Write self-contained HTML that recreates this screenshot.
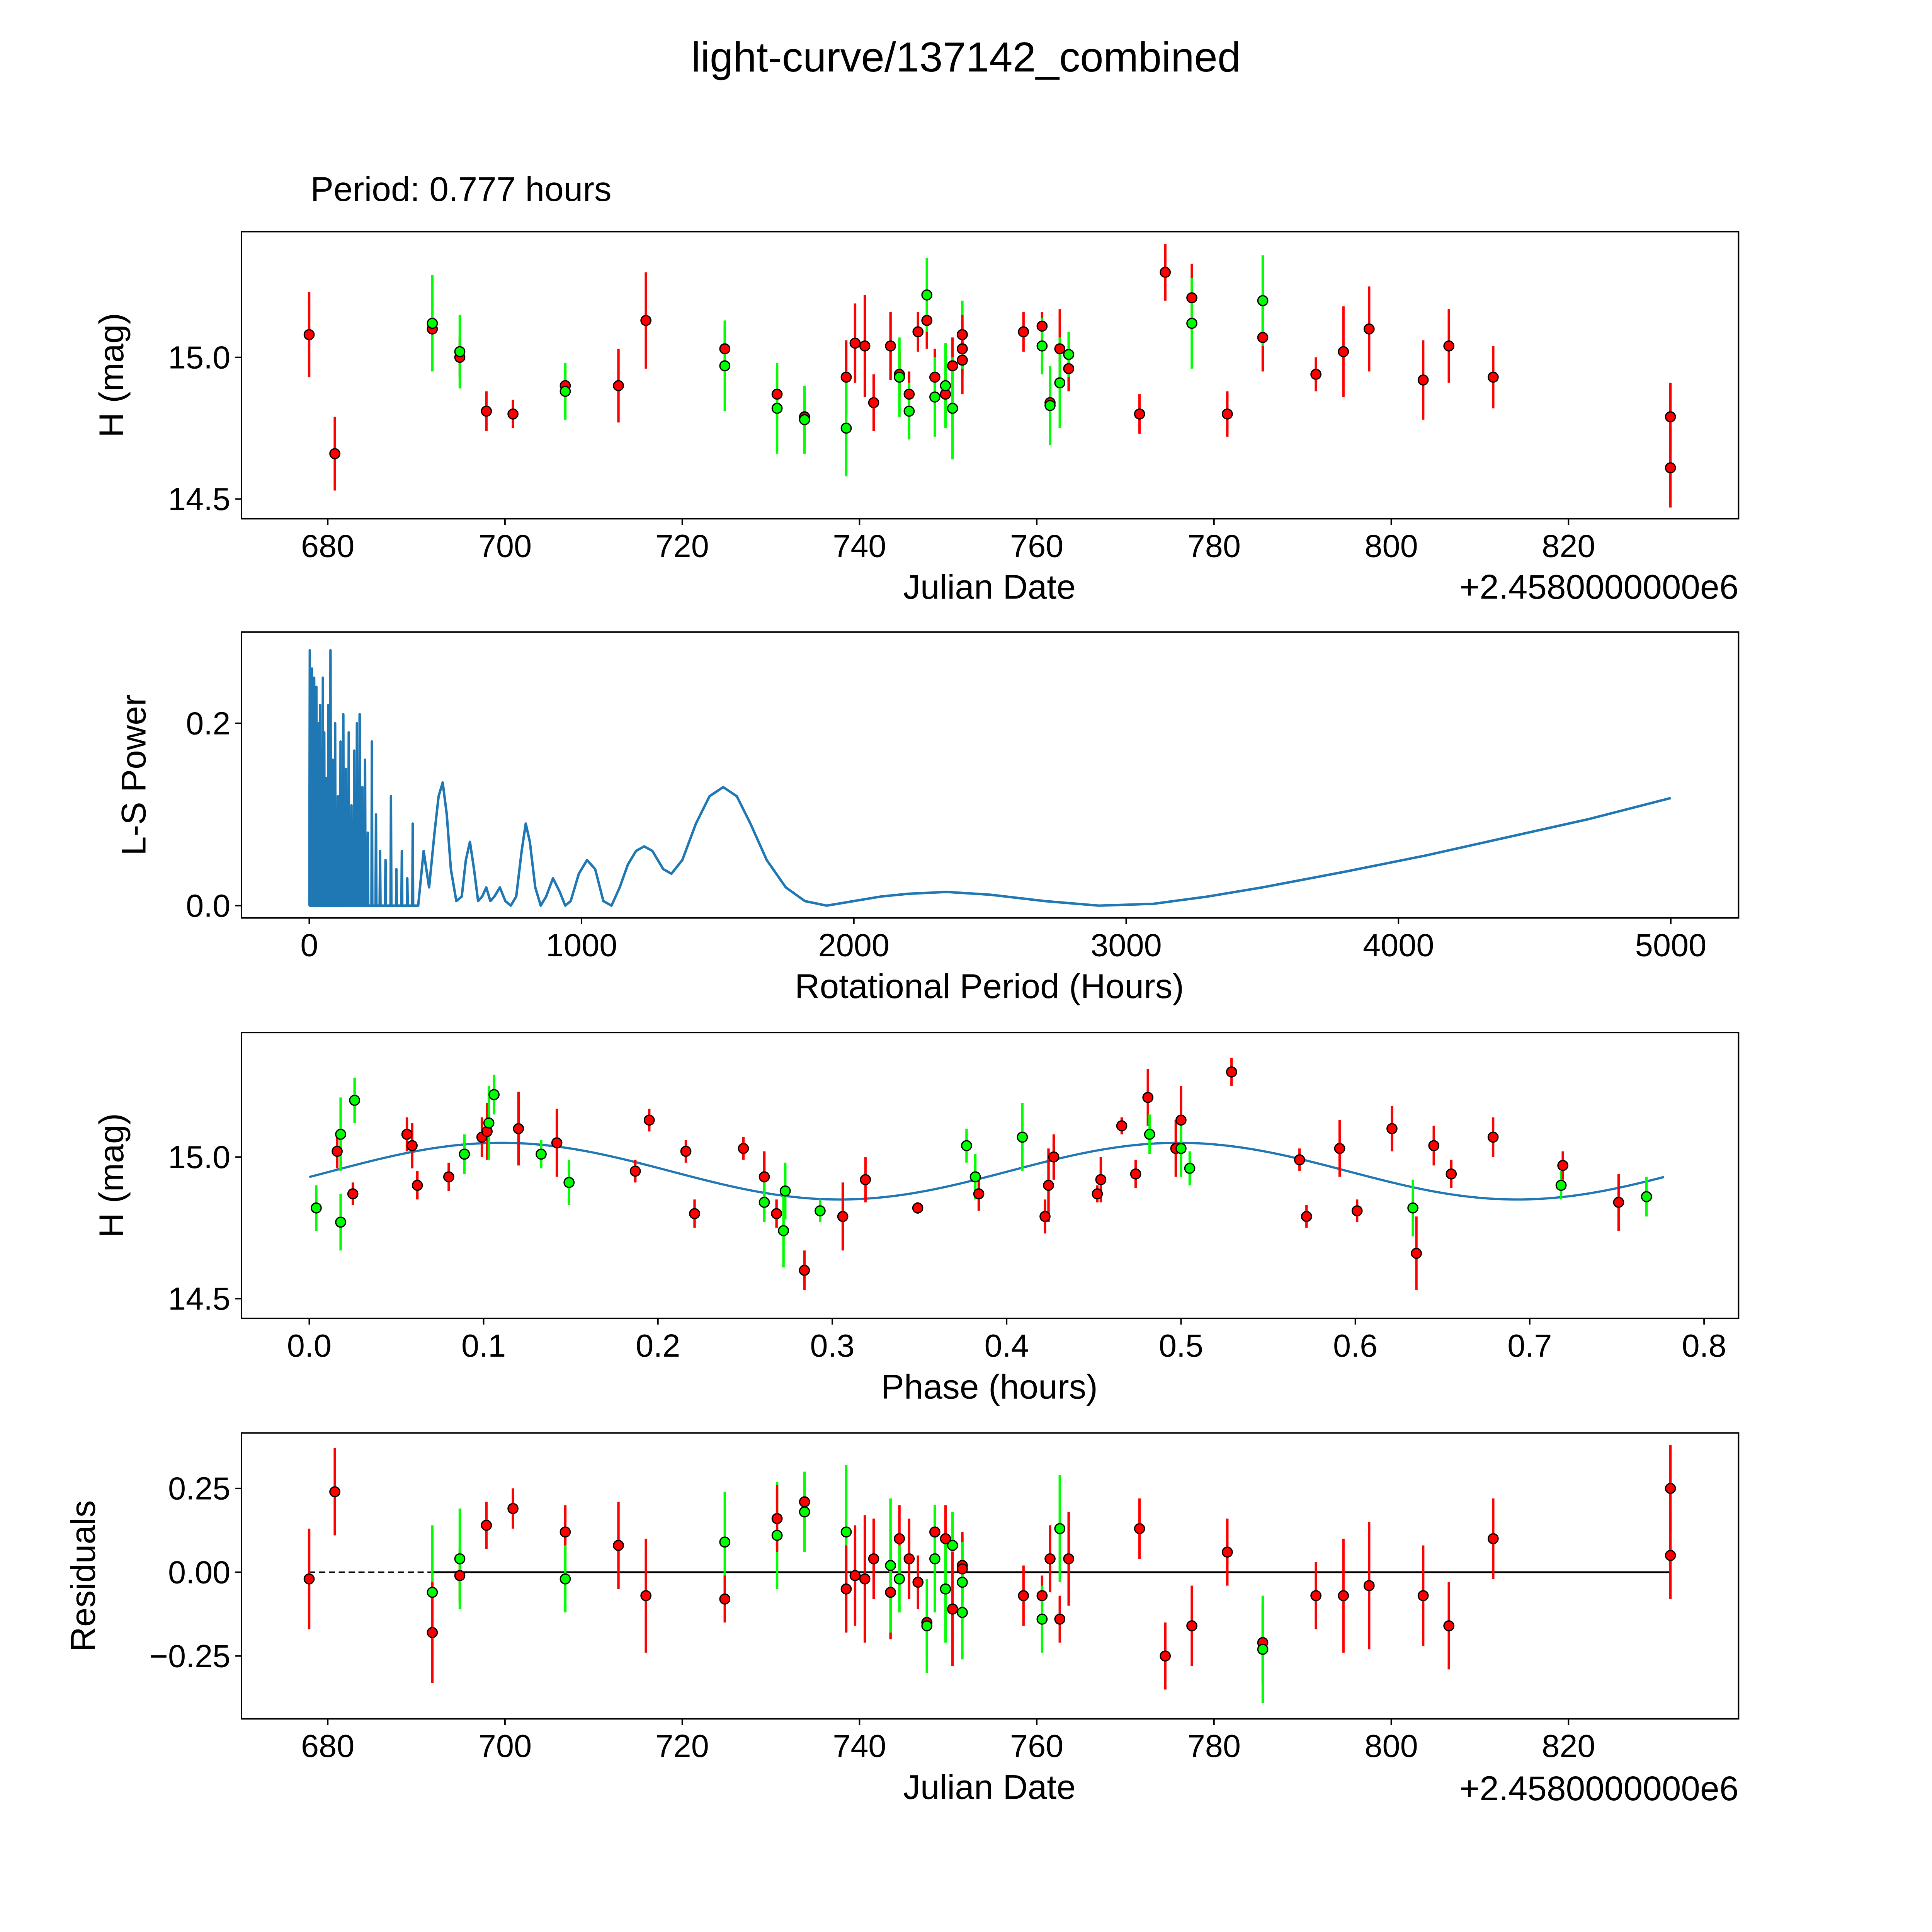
<!DOCTYPE html>
<html><head><meta charset="utf-8"><style>
html,body{margin:0;padding:0;background:#fff;overflow:hidden;width:100%;height:100%}
svg{display:block;width:100vw;height:100vh}
text{font-family:"Liberation Sans","DejaVu Sans",sans-serif;fill:#000}
</style></head><body>
<svg id="fig" xmlns="http://www.w3.org/2000/svg" viewBox="0 0 1568 1568" preserveAspectRatio="none">
<rect width="1568" height="1568" fill="#fff"/>
<text x="784" y="58" font-size="34" text-anchor="middle">light-curve/137142_combined</text>
<text x="252" y="163" font-size="28">Period: 0.777 hours</text>
<g id="root"></g>
</svg>
<script>
// ---- Data ----
const dates = [677.9,680.8,691.8,691.8,694.9,694.9,697.9,700.9,706.8,706.8,712.8,715.9,724.8,724.8,730.7,730.7,733.8,733.8,738.5,738.5,739.5,740.6,741.6,743.5,744.5,744.5,745.6,745.6,746.6,747.6,747.6,748.5,748.5,749.7,749.7,750.5,750.5,751.6,751.6,751.6,751.6,758.5,760.6,760.6,761.5,761.5,762.6,762.6,763.6,763.6,771.6,774.5,777.5,777.5,781.5,785.5,785.5,791.5,794.6,797.5,803.6,806.5,811.5,831.5,831.5];
const mags =  [15.08,14.66,15.10,15.12,15.00,15.02,14.81,14.80,14.90,14.88,14.90,15.13,15.03,14.97,14.87,14.82,14.79,14.78,14.93,14.75,15.05,15.04,14.84,15.04,14.94,14.93,14.87,14.81,15.09,15.13,15.22,14.93,14.86,14.87,14.90,14.97,14.82,14.99,15.03,15.08,15.08,15.09,15.11,15.04,14.84,14.83,15.03,14.91,14.96,15.01,14.80,15.30,15.21,15.12,14.80,15.07,15.20,14.94,15.02,15.10,14.92,15.04,14.93,14.79,14.61];
const errs =  [0.15,0.13,0.12,0.17,0.07,0.13,0.07,0.05,0.05,0.1,0.13,0.17,0.08,0.16,0.09,0.16,0.08,0.12,0.13,0.17,0.14,0.18,0.1,0.12,0.08,0.14,0.08,0.1,0.07,0.1,0.13,0.1,0.14,0.1,0.15,0.1,0.18,0.12,0.1,0.12,0.07,0.07,0.05,0.1,0.1,0.14,0.14,0.16,0.08,0.08,0.07,0.1,0.12,0.16,0.08,0.12,0.16,0.06,0.16,0.15,0.14,0.13,0.11,0.12,0.14];
const cols =  ['r','r','r','g','r','g','r','r','r','g','r','r','r','g','r','g','r','g','r','g','r','r','r','r','r','g','r','g','r','r','g','r','g','r','g','r','g','r','r','g','r','r','r','g','r','g','r','g','r','g','r','r','r','g','r','r','g','r','r','r','r','r','r','r','r'];

const phases = [0.004,0.016,0.018,0.018,0.025,0.026,0.056,0.059,0.062,0.080,0.089,0.099,0.102,0.103,0.106,0.120,0.133,0.142,0.149,0.187,0.195,0.216,0.221,0.249,0.261,0.261,0.268,0.273,0.272,0.284,0.293,0.306,0.319,0.349,0.377,0.382,0.384,0.409,0.422,0.424,0.427,0.452,0.454,0.466,0.474,0.481,0.482,0.497,0.500,0.500,0.505,0.529,0.568,0.572,0.591,0.601,0.621,0.633,0.635,0.645,0.655,0.679,0.718,0.719,0.751,0.767];
const phaseMags = [14.82,15.02,14.77,15.08,14.87,15.20,15.08,15.04,14.90,14.93,15.01,15.07,15.09,15.12,15.22,15.10,15.01,15.05,14.91,14.95,15.13,15.02,14.80,15.03,14.93,14.84,14.80,14.88,14.74,14.60,14.81,14.79,14.92,14.82,15.04,14.93,14.87,15.07,14.79,14.90,15.00,14.87,14.92,15.11,14.94,15.21,15.08,15.03,15.13,15.03,14.96,15.30,14.99,14.79,15.03,14.81,15.10,14.82,14.66,15.04,14.94,15.07,14.90,14.97,14.84,14.86];
const phaseErrs = [0.08,0.06,0.1,0.13,0.04,0.08,0.06,0.08,0.05,0.05,0.07,0.07,0.1,0.13,0.07,0.13,0.05,0.12,0.08,0.04,0.04,0.04,0.05,0.04,0.09,0.07,0.05,0.1,0.13,0.07,0.04,0.12,0.08,0.02,0.06,0.08,0.06,0.12,0.06,0.13,0.08,0.03,0.08,0.03,0.05,0.1,0.07,0.1,0.12,0.1,0.06,0.05,0.04,0.04,0.1,0.04,0.08,0.1,0.13,0.07,0.05,0.07,0.05,0.05,0.1,0.07];
const phaseCols = ['g','r','g','g','r','g','r','r','r','r','g','r','r','g','g','r','g','r','g','r','r','r','r','r','r','g','r','g','g','r','g','r','r','r','g','g','r','g','r','r','r','r','r','r','r','r','g','r','r','g','g','r','r','r','r','r','r','g','r','r','r','r','g','r','r','g'];
const fitMean = 14.95, fitAmp = 0.1, fitPeak = 0.11, fitCycle = 0.3885, periodHours = 0.777;

const resDates = [677.9,680.8,691.8,691.8,694.9,694.9,697.9,700.9,706.8,706.8,712.8,715.9,724.8,724.8,730.7,730.7,733.8,733.8,738.5,738.5,739.5,740.6,741.6,743.5,743.5,744.5,744.5,745.6,746.6,747.6,747.6,748.5,748.5,749.7,749.7,750.5,750.5,751.6,751.6,751.6,751.6,758.5,760.6,760.6,761.5,762.6,762.6,763.6,771.6,774.5,777.5,781.5,785.5,785.5,791.5,794.6,797.5,803.6,806.5,811.5,831.5,831.5];
const resVals = [-0.02,0.24,-0.06,-0.18,-0.01,0.04,0.14,0.19,0.12,-0.02,0.08,-0.07,0.09,-0.08,0.11,0.16,0.21,0.18,0.12,-0.05,-0.01,-0.02,0.04,-0.06,0.02,0.10,-0.02,0.04,-0.03,-0.15,-0.16,0.12,0.04,0.10,-0.05,0.08,-0.11,0.02,0.01,-0.03,-0.12,-0.07,-0.07,-0.14,0.04,0.13,-0.14,0.04,0.13,-0.25,-0.16,0.06,-0.21,-0.23,-0.07,-0.07,-0.04,-0.07,-0.16,0.10,0.25,0.05];
const resErrs = [0.15,0.13,0.2,0.15,0.08,0.15,0.07,0.06,0.08,0.1,0.13,0.17,0.15,0.07,0.16,0.1,0.08,0.12,0.2,0.13,0.15,0.19,0.12,0.14,0.2,0.1,0.1,0.12,0.08,0.1,0.14,0.08,0.16,0.1,0.16,0.1,0.17,0.1,0.1,0.12,0.14,0.09,0.06,0.1,0.1,0.16,0.07,0.14,0.09,0.1,0.12,0.1,0.12,0.16,0.1,0.17,0.19,0.15,0.13,0.12,0.13,0.13];
const resCols = ['r','r','g','r','r','g','r','r','r','g','r','r','g','r','g','r','r','g','g','r','r','r','r','r','g','r','g','r','r','r','g','r','g','r','g','g','r','r','r','g','g','r','r','g','r','g','r','r','r','r','r','r','r','g','r','r','r','r','r','r','r','r'];

const lsPeriods = [400,420,440,460,475,490,505,520,540,560,575,590,605,620,635,650,665,680,700,720,740,760,780,795,810,830,850,870,895,920,940,960,990,1020,1050,1080,1110,1140,1170,1200,1230,1260,1300,1330,1370,1420,1470,1520,1570,1620,1680,1750,1820,1900,2000,2100,2200,2340,2500,2700,2900,3100,3300,3500,3800,4100,4400,4700,5000];
const lsPowers = [0.0,0.06,0.02,0.08,0.12,0.135,0.10,0.04,0.005,0.01,0.05,0.07,0.04,0.005,0.01,0.02,0.005,0.01,0.02,0.005,0.0,0.01,0.06,0.09,0.07,0.02,0.0,0.01,0.03,0.015,0.0,0.005,0.035,0.05,0.04,0.005,0.0,0.02,0.045,0.06,0.065,0.06,0.04,0.035,0.05,0.09,0.12,0.13,0.12,0.09,0.05,0.02,0.005,0.0,0.005,0.01,0.013,0.015,0.012,0.005,0.0,0.002,0.01,0.02,0.037,0.055,0.075,0.095,0.118];
const spikePeriods = [2,6,10,14,18,22,26,30,35,40,45,50,55,62,70,78,86,95,105,115,125,135,145,155,165,175,185,195,205,215,230,245,260,280,300,320,340,360,380];
const spikePowers = [0.28,0.22,0.26,0.2,0.25,0.18,0.24,0.15,0.2,0.22,0.17,0.25,0.19,0.14,0.22,0.28,0.16,0.2,0.12,0.18,0.21,0.15,0.19,0.11,0.17,0.2,0.21,0.13,0.16,0.08,0.18,0.1,0.06,0.05,0.12,0.04,0.06,0.03,0.09];

// ---- Drawing ----
const NS='http://www.w3.org/2000/svg';
const root=document.getElementById('root');
function mk(tag,attrs,parent){const e=document.createElementNS(NS,tag);for(const k in attrs)e.setAttribute(k,attrs[k]);(parent||root).appendChild(e);return e;}
const L=196,R=1411;
const COL={r:'#ff0000',g:'#00ff00'};
function scale(d0,d1,p0,p1){return v=>p0+(v-d0)*(p1-p0)/(d1-d0);}

function frame(name,top,bot,xt,xs,yt,ys,xlabel,ylabel,ylx){
  const g=mk('g',{});
  
  
  const r=mk('rect',{x:L,y:top,width:R-L,height:bot-top,fill:'none',stroke:'#000','stroke-width':1.2},g);
  
  
  xt.forEach(t=>{const x=xs(t.v);mk('line',{x1:x,x2:x,y1:bot,y2:bot+5,stroke:'#000','stroke-width':1.2},g);
    const tx=mk('text',{x:x,y:bot+31,'font-size':26,'text-anchor':'middle'},g);tx.textContent=t.l;
    
    });
  yt.forEach(t=>{const y=ys(t.v);mk('line',{x1:L-5,x2:L,y1:y,y2:y,stroke:'#000','stroke-width':1.2},g);
    const tx=mk('text',{x:L-9,y:y+9,'font-size':26,'text-anchor':'end'},g);tx.textContent=t.l;
    
    });
  const xl=mk('text',{x:803,y:bot+65,'font-size':28,'text-anchor':'middle'},g);xl.textContent=xlabel;
  
  
  const yl=mk('text',{x:ylx,y:(top+bot)/2,'font-size':28,'text-anchor':'middle',transform:`rotate(-90 ${ylx} ${(top+bot)/2})`},g);yl.textContent=ylabel;
  
  
  return g;
}
function points(g,xs,ys,X,Y,E,C){
  X.forEach((v,i)=>{const x=xs(v);
    const l=mk('line',{x1:x,x2:x,y1:ys(Y[i]-E[i]),y2:ys(Y[i]+E[i]),stroke:COL[C[i]],'stroke-width':2},g);
    
    });
  X.forEach((v,i)=>{
    const c=mk('circle',{cx:xs(v),cy:ys(Y[i]),r:4,fill:COL[C[i]],stroke:'#000','stroke-width':1},g);
    
    });
}
const dateTicks=[680,700,720,740,760,780,800,820].map(v=>({v,l:String(v)}));
const offsetText=(g,y)=>{const t=mk('text',{x:R,y:y,'font-size':28,'text-anchor':'end'},g);t.textContent='+2.4580000000e6';
  
  };

// Panel 1
{const xs=scale(680,820,266,1273), ys=scale(15,14.5,290,405);
 const g=frame('light-curve-panel',188,421,dateTicks,xs,[{v:14.5,l:'14.5'},{v:15,l:'15.0'}],ys,'Julian Date','H (mag)',100);
 offsetText(g,486); points(g,xs,ys,dates,mags,errs,cols);}

// Panel 2
{const xs=scale(0,5000,251,1356), ys=scale(0,0.2,735,587);
 const g=frame('periodogram-panel',513,745,[0,1000,2000,3000,4000,5000].map(v=>({v,l:String(v)})),xs,[{v:0,l:'0.0'},{v:0.2,l:'0.2'}],ys,'Rotational Period (Hours)','L-S Power',118);
 let d=`M${xs(0)},${ys(0)}`;
 spikePeriods.forEach((p,i)=>{d+=`L${xs(p-1.5)},${ys(0)}L${xs(p)},${ys(spikePowers[i])}L${xs(p+1.5)},${ys(0)}`;});
 lsPeriods.forEach((p,i)=>{d+=`L${xs(p)},${ys(lsPowers[i])}`;});
 const pl=mk('path',{d,fill:'none',stroke:'#1f77b4','stroke-width':2,'stroke-linejoin':'round'},g);
 
 }

// Panel 3
{const xs=scale(0,0.8,251,1383), ys=scale(15,14.5,939,1054);
 const g=frame('phase-panel',838,1070,[0,0.1,0.2,0.3,0.4,0.5,0.6,0.7,0.8].map(v=>({v,l:v.toFixed(1)})),xs,[{v:14.5,l:'14.5'},{v:15,l:'15.0'}],ys,'Phase (hours)','H (mag)',100);
 let d='';for(let k=0;k<=200;k++){const p=periodHours*k/200;const m=fitMean+fitAmp*Math.cos(2*Math.PI*(p-fitPeak)/fitCycle);d+=(k?'L':'M')+xs(p)+','+ys(m);}
 const fl=mk('path',{d,fill:'none',stroke:'#1f77b4','stroke-width':1.8},g);
 
 
 points(g,xs,ys,phases,phaseMags,phaseErrs,phaseCols);}

// Panel 4
{const xs=scale(680,820,266,1273), ys=scale(0,0.25,1276,1208);
 const g=frame('residuals-panel',1163,1395,dateTicks,xs,[{v:-0.25,l:'\u22120.25'},{v:0,l:'0.00'},{v:0.25,l:'0.25'}],ys,'Julian Date','Residuals',77);
 offsetText(g,1461);
 const z1=mk('line',{x1:xs(resDates[0]),x2:xs(691.8),y1:ys(0),y2:ys(0),stroke:'#000','stroke-width':1.2,'stroke-dasharray':'5,3'},g);
 
 
 const z2=mk('line',{x1:xs(691.8),x2:xs(resDates[resDates.length-1]),y1:ys(0),y2:ys(0),stroke:'#000','stroke-width':1.5},g);
 
 
 points(g,xs,ys,resDates,resVals,resErrs,resCols);}
</script>
</body></html>
